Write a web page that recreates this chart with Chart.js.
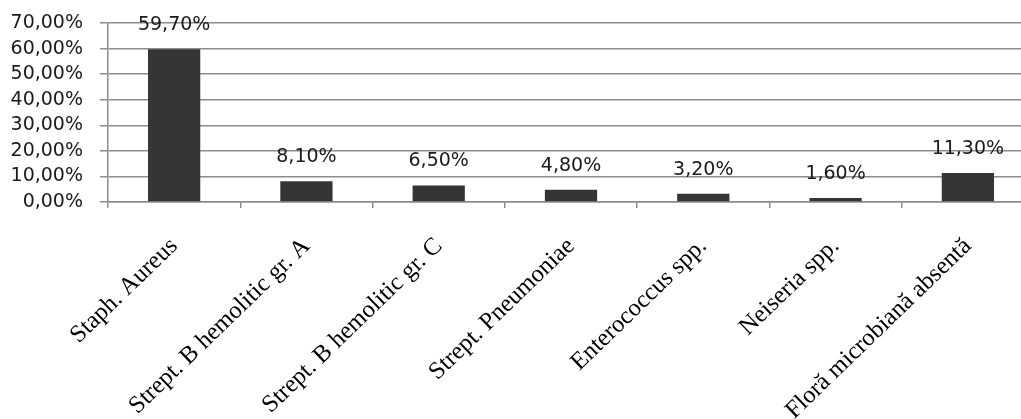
<!DOCTYPE html>
<html>
<head>
<meta charset="utf-8">
<script src="https://cdn.jsdelivr.net/npm/chart.js@4/dist/chart.umd.min.js"></script>
<style>
  html, body { margin: 0; padding: 0; background: #fff; overflow: hidden; }
  #wrap { position: relative; width: 1034px; height: 419px; }
</style>
</head>
<body>
<div id="wrap"><canvas id="c"></canvas></div>
<script>
// Isolated organisms (share of samples, %)
const categories = [
  'Staph. Aureus',
  'Strept. B hemolitic gr. A',
  'Strept. B hemolitic gr. C',
  'Strept. Pneumoniae',
  'Enterococcus spp.',
  'Neiseria spp.',
  'Floră microbiană absentă'
];
const percentages = [59.7, 8.1, 6.5, 4.8, 3.2, 1.6, 11.3];
const yTickMin = 0;
const yTickMax = 70;
const yTickStep = 10;

const fmtPct = v => v.toFixed(2).replace('.', ',') + '%';

const GRID = '#8c8c8c';

// Value labels above each bar
const valueLabels = {
  id: 'valueLabels',
  afterDatasetsDraw(chart) {
    const ctx = chart.ctx;
    const meta = chart.getDatasetMeta(0);
    ctx.save();
    ctx.font = '19px "DejaVu Sans"';
    ctx.fillStyle = '#1a1a1a';
    ctx.textAlign = 'center';
    ctx.textBaseline = 'alphabetic';
    meta.data.forEach((bar, i) => {
      ctx.fillText(fmtPct(chart.data.datasets[0].data[i]), bar.x, bar.y - 19);
    });
    ctx.restore();
  }
};

new Chart(document.getElementById('c'), {
  type: 'bar',
  data: {
    labels: categories,
    datasets: [{
      data: percentages,
      backgroundColor: '#353535',
      borderWidth: 0,
      barPercentage: 0.79,
      categoryPercentage: 0.5
    }]
  },
  options: {
    responsive: true,
    maintainAspectRatio: false,
    animation: false,
    devicePixelRatio: 1,
    layout: { padding: { top: 23, right: 0, left: 0, bottom: 0 } },
    plugins: { legend: { display: false }, tooltip: { enabled: false } },
    scales: {
      x: {
        grid: { drawOnChartArea: false, drawTicks: true, tickLength: 6, color: GRID, lineWidth: 1.5 },
        border: { display: true, color: GRID, width: 1.5 },
        ticks: {
          autoSkip: false,
          minRotation: 44,
          maxRotation: 44,
          padding: 24,
          labelOffset: 0,
          color: '#000',
          font: { family: '"Liberation Serif"', size: 24.5 }
        },
        afterFit(scale) { scale.height = 217; }
      },
      y: {
        min: yTickMin,
        max: yTickMax,
        grid: { color: GRID, lineWidth: 1.5, tickLength: 8 },
        border: { display: true, color: GRID, width: 1.5 },
        ticks: {
          stepSize: yTickStep,
          autoSkip: false,
          padding: 17,
          color: '#1a1a1a',
          font: { family: '"DejaVu Sans"', size: 19, lineHeight: 0.6 },
          callback: v => fmtPct(v)
        },
        afterFit(scale) { scale.width = 108; }
      }
    }
  },
  plugins: [valueLabels]
});
</script>
</body>
</html>
